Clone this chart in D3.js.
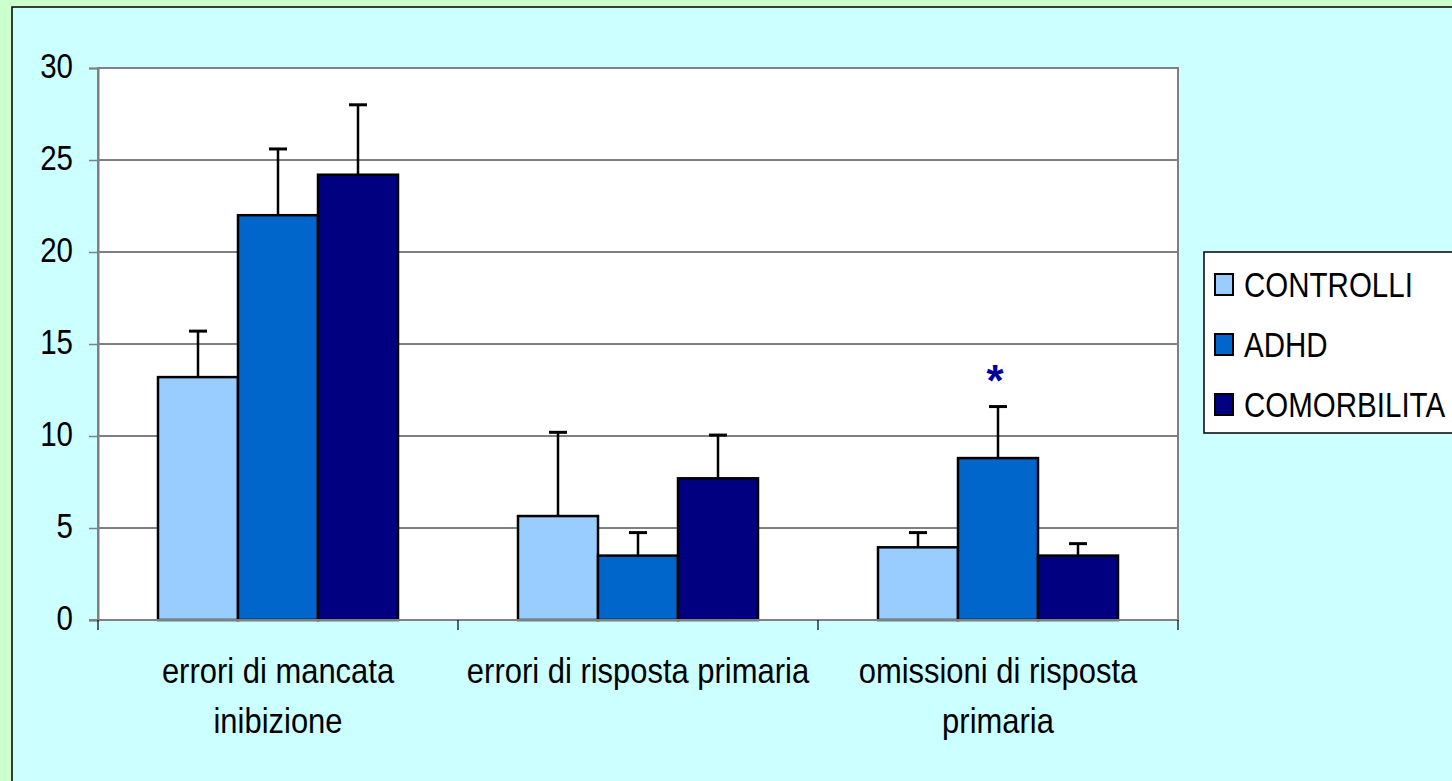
<!DOCTYPE html>
<html>
<head>
<meta charset="utf-8">
<script src="https://cdn.jsdelivr.net/npm/d3@7"></script>
<style>
  body { margin: 0; background: #ccffcc; overflow: hidden; }
  text { font-family: "Liberation Sans", Arial, sans-serif; }
</style>
</head>
<body>
<div id="graph"></div>
<script>
// data
var categories = [["errori di mancata", "inibizione"], ["errori di risposta primaria"], ["omissioni di risposta", "primaria"]];
var series = ["CONTROLLI", "ADHD", "COMORBILITA"];
var colors = ["#99ccff", "#0066cc", "#000080"];
var controlli = [13.2, 5.65, 3.95];
var adhd = [22.0, 3.5, 8.8];
var comorbilita = [24.2, 7.7, 3.5];
var errControlli = [2.5, 4.55, 0.8];
var errAdhd = [3.6, 1.25, 2.8];
var errComorbilita = [3.8, 2.35, 0.65];
var yTicks = [0, 5, 10, 15, 20, 25, 30];
var starred = [{cat: 2, s: 1}];

var values = [controlli, adhd, comorbilita];
var errs = [errControlli, errAdhd, errComorbilita];

var W = 1452, H = 781;
var plot = {left: 98, right: 1178, top: 68, bottom: 620};
var sx = 0.82;   // the reference text is horizontally squeezed
var fs = 36;

var svg = d3.select("#graph").append("svg")
  .attr("width", W).attr("height", H);

// panel
svg.append("rect").attr("width", W).attr("height", H).attr("fill", "#ccffcc");
svg.append("rect")
  .attr("x", 12).attr("y", 7).attr("width", W + 20).attr("height", H + 20)
  .attr("fill", "#ccffff").attr("stroke", "#000").attr("stroke-width", 1.5);

var catIdx = d3.range(categories.length);
var x0 = d3.scaleBand().domain(catIdx).range([plot.left, plot.right]);
var x1 = d3.scaleBand().domain(d3.range(series.length))
  .range([0, x0.bandwidth()]).paddingInner(0).paddingOuter(0.75);
var y = d3.scaleLinear().domain([0, 30]).range([plot.bottom, plot.top]);

// plot area
svg.append("rect")
  .attr("x", plot.left).attr("y", plot.top)
  .attr("width", plot.right - plot.left).attr("height", plot.bottom - plot.top)
  .attr("fill", "#fff");

// gridlines
svg.append("g").selectAll("line")
  .data(yTicks.filter(function(t) { return t > 0 && t < 30; }))
  .enter().append("line")
  .attr("x1", plot.left).attr("x2", plot.right)
  .attr("y1", function(d) { return y(d); }).attr("y2", function(d) { return y(d); })
  .attr("stroke", "#000").attr("stroke-width", 1);

// plot border
svg.append("rect")
  .attr("x", plot.left).attr("y", plot.top)
  .attr("width", plot.right - plot.left).attr("height", plot.bottom - plot.top)
  .attr("fill", "none").attr("stroke", "#808080").attr("stroke-width", 2);

// bars
var barData = [];
catIdx.forEach(function(c) {
  series.forEach(function(s, i) {
    barData.push({c: c, s: i, v: values[i][c], e: errs[i][c]});
  });
});
function cx(d) { return x0(d.c) + x1(d.s) + x1.bandwidth() / 2; }

var bars = svg.append("g");
bars.selectAll("line.err")
  .data(barData).enter().append("line")
  .attr("x1", cx).attr("x2", cx)
  .attr("y1", function(d) { return y(d.v); })
  .attr("y2", function(d) { return y(d.v + d.e); })
  .attr("stroke", "#000").attr("stroke-width", 2.5);
bars.selectAll("line.cap")
  .data(barData).enter().append("line")
  .attr("x1", function(d) { return cx(d) - 9; })
  .attr("x2", function(d) { return cx(d) + 9; })
  .attr("y1", function(d) { return y(d.v + d.e); })
  .attr("y2", function(d) { return y(d.v + d.e); })
  .attr("stroke", "#000").attr("stroke-width", 3);
bars.selectAll("rect")
  .data(barData).enter().append("rect")
  .attr("x", function(d) { return x0(d.c) + x1(d.s); })
  .attr("y", function(d) { return y(d.v); })
  .attr("width", x1.bandwidth())
  .attr("height", function(d) { return y(0) - y(d.v); })
  .attr("fill", function(d) { return colors[d.s]; })
  .attr("stroke", "#000").attr("stroke-width", 2.5);

// star
svg.selectAll("text.star")
  .data(starred).enter().append("text")
  .attr("x", function(d) { return x0(d.cat) + x1(d.s) + x1.bandwidth() / 2 - 3; })
  .attr("y", function(d) { return y(adhd[d.cat] + errAdhd[d.cat]) - 11; })
  .attr("text-anchor", "middle")
  .attr("font-size", 44).attr("font-weight", "bold")
  .attr("fill", "#000099")
  .text("*");

// y axis
var yAxis = svg.append("g")
  .attr("transform", "translate(" + plot.left + ",0)")
  .call(d3.axisLeft(y).tickValues(yTicks).tickSize(9));
yAxis.select(".domain").attr("stroke", "#808080").attr("stroke-width", 2);
yAxis.selectAll(".tick line").attr("stroke", "#808080").attr("stroke-width", 1.5);
yAxis.selectAll(".tick text")
  .attr("font-size", fs).attr("fill", "#000")
  .attr("x", -25 / sx).attr("dy", "0.25em")
  .attr("transform", "scale(" + sx + ",1)")
  .style("font-family", '"Liberation Sans", Arial, sans-serif');

// x axis line and ticks
svg.append("line")
  .attr("x1", plot.left - 9).attr("x2", plot.right)
  .attr("y1", y(0)).attr("y2", y(0))
  .attr("stroke", "#808080").attr("stroke-width", 2);
svg.append("g").selectAll("line")
  .data(catIdx.concat([categories.length]))
  .enter().append("line")
  .attr("x1", function(d) { return d < categories.length ? x0(d) : plot.right; })
  .attr("x2", function(d) { return d < categories.length ? x0(d) : plot.right; })
  .attr("y1", y(0)).attr("y2", y(0) + 10)
  .attr("stroke", "#000").attr("stroke-width", 1.2);

// category labels
var catLabels = svg.append("g").selectAll("g")
  .data(catIdx).enter().append("g")
  .attr("transform", function(c) {
    return "translate(" + (x0(c) + x0.bandwidth() / 2) + ",683) scale(0.86,1)";
  })
  .append("text")
  .attr("text-anchor", "middle")
  .attr("font-size", fs)
  .attr("fill", "#000");
catLabels.each(function(c) {
  var t = d3.select(this);
  categories[c].forEach(function(line, k) {
    t.append("tspan").attr("x", 0).attr("y", k * 50).text(line);
  });
});

// legend
var legend = svg.append("g").attr("transform", "translate(1204,252)");
legend.append("rect")
  .attr("width", 280).attr("height", 181)
  .attr("fill", "#fff").attr("stroke", "#000").attr("stroke-width", 1.5);
var items = legend.selectAll("g.item")
  .data(series).enter().append("g")
  .attr("transform", function(d, i) { return "translate(0," + (32 + i * 60) + ")"; });
items.append("rect")
  .attr("x", 11).attr("y", -10).attr("width", 18).attr("height", 21)
  .attr("fill", function(d, i) { return colors[i]; })
  .attr("stroke", "#000").attr("stroke-width", 2);
items.append("text")
  .attr("transform", "translate(40,13) scale(" + sx + ",1)")
  .attr("font-size", fs).attr("fill", "#000")
  .text(function(d) { return d; });
</script>
</body>
</html>
